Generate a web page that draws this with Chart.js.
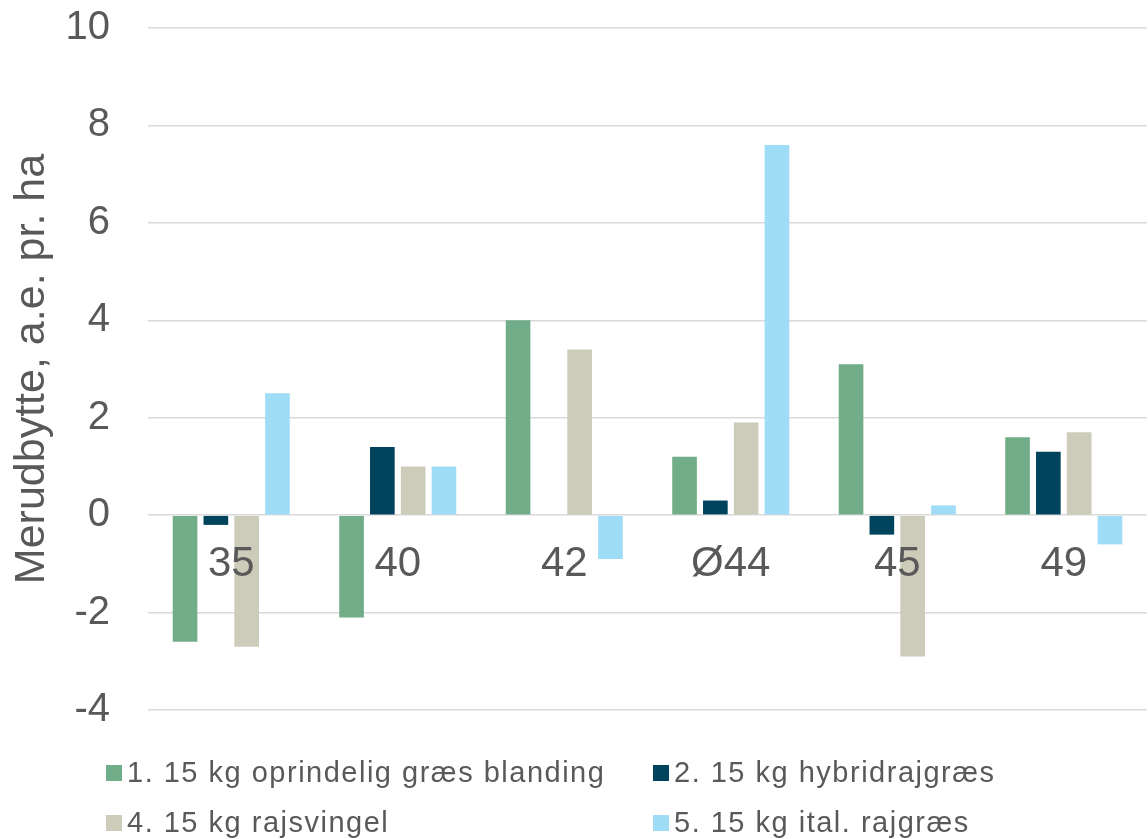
<!DOCTYPE html>
<html>
<head>
<meta charset="utf-8">
<script src="https://cdn.jsdelivr.net/npm/chart.js@4"></script>
<style>
  html, body { margin: 0; padding: 0; background: #fff; }
  #wrap { width: 1148px; height: 839px; position: relative; }
</style>
</head>
<body>
<div id="wrap"><canvas id="chart"></canvas></div>
<script>
const categories = ["35", "40", "42", "Ø44", "45", "49"];
const seriesNames = [
  "1. 15 kg oprindelig græs blanding",
  "2. 15 kg hybridrajgræs",
  "4. 15 kg rajsvingel",
  "5. 15 kg ital. rajgræs",
];
const oprindelig = [-2.6, -2.1, 4.0, 1.2, 3.1, 1.6];
const hybrid = [-0.2, 1.4, 0, 0.3, -0.4, 1.3];
const rajsvingel = [-2.7, 1.0, 3.4, 1.9, -2.9, 1.7];
const italRaj = [2.5, 1.0, -0.9, 7.6, 0.2, -0.6];
const colors = ["#70ad88", "#00435d", "#cdcbba", "#9fdcf6"];

const textColor = "#595959";
const fontFamily = "'Liberation Sans', Arial, sans-serif";

// legend drawn as a fixed 2x2 grid, like the Excel original
const gridLegend = {
  id: "gridLegend",
  afterDraw(chart) {
    const { ctx } = chart;
    const colX = [106, 653];
    const rowY = [773, 823];
    ctx.save();
    ctx.font = `29px ${fontFamily}`;
    ctx.letterSpacing = "1.5px";
    ctx.textBaseline = "middle";
    ctx.textAlign = "left";
    chart.data.datasets.forEach((ds, i) => {
      const x = colX[i % 2];
      const y = rowY[Math.floor(i / 2)];
      ctx.fillStyle = ds.backgroundColor;
      ctx.fillRect(x, y - 8, 16, 16);
      ctx.fillStyle = textColor;
      ctx.fillText(ds.label, x + 21, y + 1);
    });
    ctx.restore();
  },
};

const seriesData = [oprindelig, hybrid, rajsvingel, italRaj];

new Chart(document.getElementById("chart"), {
  type: "bar",
  data: {
    labels: categories,
    datasets: seriesData.map((d, i) => ({
      label: seriesNames[i],
      data: d,
      backgroundColor: colors[i],
      borderWidth: 0,
      categoryPercentage: 0.74,
      barPercentage: 0.8,
    })),
  },
  options: {
    responsive: true,
    maintainAspectRatio: false,
    animation: false,
    layout: { padding: { top: 28, right: 1, bottom: 129, left: 0 } },
    plugins: {
      legend: { display: false },
      tooltip: { enabled: false },
    },
    scales: {
      x: {
        position: { y: 0 },
        grid: { display: false, drawTicks: false },
        border: { display: false },
        ticks: {
          z: 1,
          color: textColor,
          padding: 24,
          font: { size: 42, family: fontFamily },
          maxRotation: 0,
        },
        afterFit(scale) {
          scale.height = 0;
        },
      },
      y: {
        min: -4,
        max: 10,
        ticks: {
          stepSize: 2,
          color: textColor,
          padding: 38,
          font: { size: 40, family: fontFamily },
        },
        grid: { color: "#d9d9d9", lineWidth: 1.5, drawTicks: false },
        border: { display: false },
        title: {
          display: true,
          text: "Merudbytte, a.e. pr. ha",
          color: textColor,
          font: { size: 43, family: fontFamily },
          padding: { top: 6, bottom: 0 },
        },
        afterFit(scale) {
          scale.width = 148;
          scale.paddingTop = 0;
          scale.paddingBottom = 0;
        },
      },
    },
  },
  plugins: [gridLegend],
});
</script>
</body>
</html>
